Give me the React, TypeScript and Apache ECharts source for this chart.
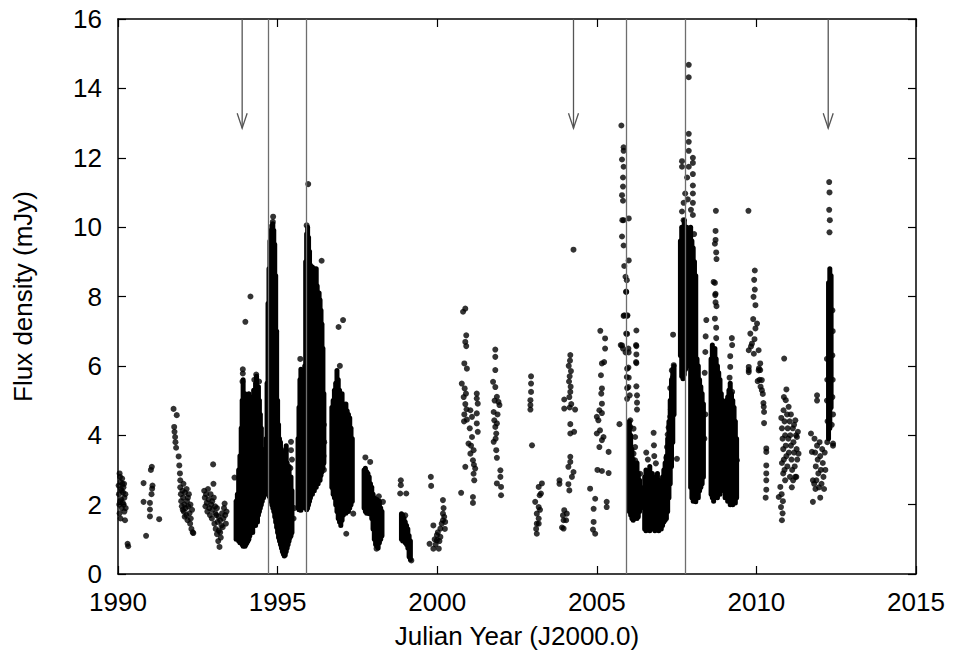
import React, { useEffect, useRef } from 'react';
import * as echarts from 'echarts';

const xTicks = { min: 1990, max: 2015, step: 5 };
const yTicks = { min: 0, max: 16, step: 2 };
const flareLines = [1994.71, 1995.9, 2005.92, 2007.77];
const arrowYears = [1993.89, 2004.27, 2012.25];
const arrowTip = 12.85;

// dense observation runs: [year, lowest flux, highest flux]
const denseSpans: [number, number, number][] = [
  [1993.70,1.00,2.10],[1993.74,1.10,2.30],[1993.78,0.95,3.00],[1993.82,0.90,3.40],[1993.86,1.00,4.20],[1993.89,0.85,5.00],[1993.92,0.80,5.60],[1993.95,0.90,4.80],[1993.98,0.80,5.20],[1994.01,0.85,4.60],[1994.04,0.90,5.00],[1994.07,0.95,4.40],[1994.10,1.00,5.20],[1994.13,1.10,4.80],[1994.16,1.20,5.10],[1994.19,1.30,4.50],[1994.22,1.20,5.00],[1994.25,1.40,5.30],[1994.28,1.50,4.70],[1994.31,1.40,5.50],[1994.34,1.60,5.70],[1994.37,1.50,5.00],[1994.40,1.70,5.40],[1994.43,1.80,5.00],[1994.46,1.90,4.60],[1994.49,2.00,4.20],[1994.52,2.10,3.60],[1994.56,2.20,3.20],[1994.60,2.30,3.40],
  [1994.64,2.40,3.90],[1994.67,2.35,5.50],[1994.70,2.30,7.80],[1994.73,2.25,8.80],[1994.76,2.20,9.60],[1994.79,2.10,9.90],[1994.82,2.00,10.05],[1994.85,1.90,10.10],[1994.88,1.80,9.90],[1994.91,1.65,9.50],[1994.94,1.50,8.60],[1994.97,1.35,7.00],[1995.00,1.20,5.00],[1995.03,1.05,4.30],[1995.06,0.95,3.90],[1995.09,0.85,3.80],[1995.12,0.75,3.60],[1995.15,0.65,3.50],[1995.18,0.58,3.40],[1995.21,0.52,3.30],[1995.24,0.55,3.50],[1995.27,0.65,3.70],[1995.30,0.75,3.20],[1995.33,0.85,2.90],[1995.36,0.95,3.10],[1995.39,1.05,2.60],[1995.42,1.10,2.80],[1995.45,1.20,2.40],
  [1995.64,1.90,3.90],[1995.67,1.85,4.80],[1995.70,1.85,5.60],[1995.73,1.84,5.90],[1995.76,1.90,5.50],[1995.79,1.95,5.20],[1995.82,2.00,5.60],[1995.85,2.05,6.00],
  [1995.88,1.90,9.00],[1995.91,1.85,9.80],[1995.94,1.90,10.00],[1995.97,2.00,9.70],[1996.00,2.10,9.30],[1996.03,2.20,8.90],[1996.06,2.35,8.70],[1996.09,2.30,8.85],[1996.12,2.45,8.60],[1996.15,2.40,8.80],[1996.18,2.55,8.50],[1996.21,2.50,8.80],[1996.24,2.65,8.30],[1996.27,2.60,8.10],[1996.30,2.75,8.10],[1996.33,2.70,7.90],[1996.36,2.85,7.60],[1996.39,2.95,7.20],[1996.42,3.05,6.50],[1996.45,3.20,5.20],
  [1996.70,2.50,4.80],[1996.74,2.30,5.00],[1996.78,2.20,5.30],[1996.82,2.00,5.50],[1996.86,1.80,5.87],[1996.90,1.60,5.60],[1996.94,1.50,5.30],[1996.98,1.40,5.00],[1997.02,1.55,5.20],[1997.06,1.70,4.90],[1997.10,1.80,4.80],[1997.14,1.75,4.90],[1997.18,1.90,4.70],[1997.22,1.80,4.60],[1997.26,1.90,4.50],[1997.30,2.00,4.20],[1997.34,2.10,3.90],
  [1997.71,1.90,3.00],[1997.75,1.80,3.05],[1997.79,1.75,2.95],[1997.83,1.80,2.90],[1997.87,1.74,2.80],[1997.91,1.74,2.60],[1997.95,1.60,2.50],[1997.99,1.30,2.30],[1998.03,1.00,2.20],[1998.07,0.85,2.10],[1998.11,0.80,2.15],[1998.15,0.75,2.00],[1998.19,0.90,2.10],[1998.23,1.00,1.90],[1998.27,1.10,1.80],
  [1998.88,1.00,1.74],[1998.92,0.95,1.70],[1998.96,1.05,1.60],[1999.00,0.90,1.50],[1999.04,0.85,1.40],[1999.08,0.75,1.30],[1999.12,0.50,1.10],[1999.16,0.42,0.95],
  [2006.02,1.80,4.40],[2006.06,1.70,4.00],[2006.10,1.60,3.60],[2006.14,1.55,3.30],[2006.18,1.60,3.10],[2006.22,1.70,3.00],[2006.26,1.60,3.20],[2006.30,1.65,2.90],[2006.34,1.80,2.70],[2006.38,1.90,2.50],
  [2006.50,1.30,2.80],[2006.54,1.25,3.00],[2006.58,1.30,2.60],[2006.62,1.40,2.90],[2006.66,1.25,3.10],[2006.70,1.30,2.70],[2006.74,1.35,2.90],[2006.78,1.30,2.50],[2006.82,1.25,2.80],[2006.86,1.40,2.60],[2006.90,1.30,2.90],[2006.94,1.25,2.70],[2006.98,1.35,2.40],[2007.02,1.30,2.60],[2007.06,1.40,2.80],[2007.10,1.50,3.00],[2007.14,1.55,3.20],
  [2007.18,1.60,3.40],[2007.22,1.80,3.90],[2007.26,2.20,4.40],[2007.30,2.60,5.00],[2007.34,3.10,5.60],[2007.38,3.80,5.90],[2007.42,4.60,6.00],
  [2007.62,6.30,9.60],[2007.66,5.70,10.00],[2007.70,5.63,9.90],[2007.74,5.75,10.20],[2007.78,5.90,9.80],[2007.82,6.20,10.00],[2007.86,6.00,9.90],[2007.90,6.40,9.70],
  [2007.94,2.50,10.00],[2007.98,2.20,9.60],[2008.02,2.10,9.40],[2008.06,2.20,9.00],[2008.10,2.08,8.60],[2008.14,2.30,6.20],[2008.18,2.20,6.00],[2008.22,2.40,5.60],[2008.26,2.50,5.40],[2008.30,2.60,5.20],[2008.34,2.80,4.90],
  [2008.58,2.30,6.20],[2008.62,2.20,6.60],[2008.66,2.10,6.40],[2008.70,2.20,6.50],[2008.74,2.30,6.20],[2008.78,2.20,6.00],[2008.82,2.40,5.80],[2008.86,2.30,5.60],[2008.90,2.50,5.20],[2008.94,2.60,5.00],[2008.98,2.40,4.80],[2009.02,2.20,4.90],[2009.06,2.30,5.00],[2009.10,2.10,5.10],[2009.14,2.20,5.30],[2009.18,2.00,5.50],[2009.22,2.10,5.20],[2009.26,2.00,5.00],[2009.30,2.10,4.80],[2009.34,2.05,4.40],[2009.38,2.20,3.90],
  [2012.26,3.90,8.40],[2012.30,4.20,8.80],[2012.34,4.80,8.60],
];

const obs1990to1993: [number, number][] = [
  [1990.02,2.55],[1990.03,2.3],[1990.04,2.0],[1990.05,1.75],[1990.06,2.8],[1990.08,2.65],[1990.09,2.45],[1990.10,2.15],[1990.12,1.9],[1990.13,2.75],[1990.14,2.6],[1990.16,2.35],[1990.17,2.5],[1990.18,2.0],[1990.20,1.8],[1990.20,2.2],[1990.22,1.55],[1990.05,2.9],[1990.08,1.6],[1990.24,1.9],[1990.07,2.1],[1990.11,2.4],[1990.15,2.05],[1990.19,2.6],[1990.23,2.3],
  [1990.30,0.87],[1990.32,0.8],
  [1990.80,2.62],[1990.80,2.08],[1990.88,1.10],[1991.03,3.00],[1991.06,3.09],[1991.07,2.46],[1991.05,2.30],[1991.08,2.55],[1991.00,2.05],[1991.00,1.86],[1991.00,1.66],[1991.29,1.58],
  [1991.74,4.76],[1991.84,4.58],[1991.76,4.24],[1991.77,4.10],[1991.79,3.95],[1991.80,3.80],[1991.82,3.64],[1991.90,3.39],[1991.92,3.13],[1991.94,2.90],[1991.95,2.70],[1991.95,2.50],[1991.97,2.30],[1991.98,2.10],[1992.00,1.95],[1992.02,2.40],[1992.04,2.20],[1992.05,2.60],[1992.06,1.80],[1992.08,2.00],[1992.10,2.35],[1992.12,1.90],[1992.14,1.70],[1992.15,2.45],[1992.16,2.10],[1992.18,1.55],[1992.20,1.95],[1992.22,2.30],[1992.24,1.75],[1992.26,1.45],[1992.28,1.60],[1992.30,1.30],[1992.32,1.85],[1992.34,1.20],[1992.36,1.18],[1992.03,1.85],[1992.09,1.65],[1992.19,2.20],[1992.27,2.00],
  [1992.70,2.40],[1992.72,2.20],[1992.74,1.95],[1992.76,2.30],[1992.78,2.05],[1992.80,1.80],[1992.82,2.45],[1992.84,2.15],[1992.86,1.90],[1992.88,1.70],[1992.90,2.30],[1992.92,2.00],[1992.94,1.60],[1992.95,2.10],[1992.96,1.85],[1992.98,3.16],[1992.99,2.60],[1993.00,2.20],[1993.02,1.45],[1993.04,1.95],[1993.05,1.75],[1993.06,1.30],[1993.08,1.70],[1993.10,1.15],[1993.10,1.90],[1993.12,1.50],[1993.14,0.95],[1993.15,1.65],[1993.16,1.25],[1993.18,0.78],[1993.20,1.55],[1993.20,1.20],[1993.22,1.05],[1993.24,1.40],[1993.26,1.75],[1993.28,1.35],[1993.30,1.60],[1993.32,1.90],[1993.34,2.03],[1993.36,1.70],[1993.38,1.45],[1993.40,1.80],
];

const obs1993to2000: [number, number][] = [
  [1993.65,2.78],[1993.91,5.90],[1993.91,5.78],[1993.90,5.55],[1993.99,7.27],[1994.15,8.00],[1994.33,5.75],[1994.42,5.55],[1994.27,5.60],
  [1994.86,10.30],[1994.85,10.15],[1995.42,3.81],[1995.42,3.57],[1995.45,3.30],[1995.40,3.05],[1995.71,6.20],[1995.50,1.60],[1995.52,1.90],
  [1995.96,11.24],[1995.91,10.05],[1996.38,9.03],[1996.45,3.00],[1996.44,3.40],[1996.46,3.80],[1996.45,4.30],
  [1996.91,7.12],[1997.05,7.32],[1996.75,2.46],[1997.37,1.74],[1997.15,1.16],[1996.95,6.00],
  [1997.75,3.36],[1997.90,3.23],[1998.17,2.24],[1998.30,2.08],[1998.10,0.73],
  [1998.86,2.70],[1998.86,2.56],[1998.84,2.32],[1999.03,2.32],[1999.00,1.69],[1999.19,0.39],
  [1999.80,2.80],[1999.81,2.54],[1999.88,1.40],[1999.76,0.87],[1999.88,0.73],[2000.05,0.73],[1999.99,1.12],[2000.10,1.31],[2000.18,1.74],[2000.18,2.13],[2000.25,1.50],[2000.10,1.07],[2000.18,1.55],[1999.99,0.97],[1999.92,1.00],[2000.02,1.20],[2000.14,1.45],[2000.22,1.65],[1999.95,0.85],[2000.07,0.95],[2000.20,1.90],[2000.24,1.30],
];

const obs2000to2006: [number, number][] = [
  [2000.88,7.65],[2000.81,7.56],[2000.91,6.88],[2000.88,6.69],[2000.91,6.57],[2000.85,6.07],[2000.93,5.92],[2000.77,5.49],[2000.86,5.35],[2000.83,5.10],[2000.88,4.90],[2000.85,4.60],[2000.92,4.75],[2000.90,5.20],[2000.84,4.40],
  [2001.04,4.72],[2001.09,4.53],[2001.24,5.20],[2001.24,5.06],[2001.27,4.91],[2001.24,4.63],[2001.24,4.34],[2001.27,4.10],[2000.98,3.76],[2001.09,3.95],[2001.14,3.57],[2001.12,3.28],[2001.19,3.04],[2001.16,2.70],[2000.88,3.09],[2000.75,2.34],[2001.12,2.22],[2001.12,2.05],[2001.04,3.47],[2001.14,2.89],[2001.02,4.20],[2000.93,4.45],[2001.06,3.70],[2001.15,3.15],
  [2001.82,6.47],[2001.82,6.26],[2001.82,5.88],[2001.75,5.54],[2001.82,5.39],[2001.87,5.11],[2001.95,4.87],[2001.77,4.67],[2001.79,4.43],[2001.87,4.34],[2001.85,4.05],[2001.77,3.81],[2001.85,3.57],[2001.98,2.99],[2001.98,2.80],[2001.87,2.61],[2002.00,2.51],[2002.00,2.27],[2001.92,4.96],[2001.82,4.24],[2001.80,5.00],[2001.89,4.60],[2001.83,3.90],[2001.87,3.35],
  [2002.94,5.70],[2002.94,5.49],[2002.94,5.25],[2002.92,5.01],[2002.92,4.87],[2002.92,4.74],[2002.97,3.71],
  [2003.28,2.61],[2003.18,2.51],[2003.21,2.27],[2003.07,2.08],[2003.18,1.93],[2003.12,1.74],[2003.18,1.60],[2003.12,1.45],[2003.12,1.16],[2003.25,2.32],[2003.18,1.45],[2003.10,1.30],[2003.22,1.85],
  [2003.83,2.70],[2003.83,2.60],[2003.98,1.84],[2003.94,1.69],[2003.96,1.55],[2003.91,1.34],[2003.98,5.03],[2003.98,4.77],[2004.32,4.74],[2004.17,4.32],[2004.29,4.10],[2004.17,4.05],[2004.17,3.38],[2004.17,3.23],[2004.11,3.09],[2004.27,2.94],[2004.22,2.80],[2004.11,2.59],[2004.14,2.41],[2004.06,1.74],[2004.04,1.55],[2003.96,1.31],[2004.17,6.31],[2004.27,9.35],[2004.12,6.00],[2004.15,5.70],[2004.18,5.40],[2004.14,5.10],[2004.20,4.90],[2004.16,6.15],[2004.19,5.85],[2004.13,5.55],[2004.17,5.25],[2004.15,4.80],
  [2005.11,7.01],[2005.26,6.79],[2005.26,6.50],[2005.16,6.07],[2005.23,6.11],[2005.13,5.73],[2005.16,5.35],[2005.14,5.20],[2005.16,4.91],[2005.08,4.72],[2005.16,4.64],[2005.00,4.53],[2005.05,4.43],[2005.10,4.14],[2005.00,4.05],[2005.21,3.95],[2005.16,3.86],[2005.08,3.66],[2005.37,3.52],[2005.02,3.00],[2005.16,2.97],[2005.37,2.91],[2004.79,2.46],[2004.95,2.17],[2004.90,1.88],[2005.31,2.08],[2005.31,1.93],[2004.90,1.50],[2004.88,1.28],[2004.95,1.16],
  [2005.71,4.32],
  [2005.77,12.93],[2005.84,12.30],[2005.84,12.20],[2005.79,11.95],[2005.84,11.74],[2005.82,11.43],[2005.82,11.17],[2005.79,10.92],[2005.82,10.76],[2005.80,10.20],[2005.84,10.20],[2006.00,10.25],[2005.79,9.73],[2005.84,9.47],[2005.86,8.88],[2006.00,9.04],[2005.90,8.57],[2005.92,8.14],[2005.84,7.44],[2005.95,7.44],[2005.95,6.92],[2005.79,6.59],[2005.90,6.39],[2006.00,6.39],[2005.95,5.92],[2006.00,5.66],[2005.95,5.36],[2006.03,5.15],[2005.95,5.05],
  [2006.24,7.02],[2006.24,6.57],[2006.24,6.33],[2006.24,6.08],[2006.24,5.41],[2006.26,5.15],[2006.26,4.94],[2006.26,4.74],[2006.23,6.60],[2006.23,6.11],
  [2005.94,8.47],[2005.92,8.13],[2005.86,7.46],[2005.96,7.46],[2005.92,6.93],[2005.75,6.60],[2005.82,6.50],[2005.99,6.50],[2005.99,5.95],[2005.94,5.68],[2005.99,5.39],
];

const obs2006to2012: [number, number][] = [
  [2006.05,4.43],[2006.05,4.24],[2006.15,4.19],[2006.20,3.95],[2006.20,3.66],[2006.15,3.47],[2006.20,3.28],[2006.10,2.94],[2006.25,2.89],[2006.36,2.89],
  [2006.78,4.07],[2006.79,3.71],[2006.80,3.40],[2006.85,3.19],[2006.60,3.30],[2006.55,3.50],
  [2007.41,6.02],[2007.35,5.87],[2007.38,5.66],[2007.30,5.36],[2007.35,5.05],[2007.32,4.74],[2007.30,4.53],[2007.25,4.22],[2007.22,4.02],[2007.20,3.66],[2007.18,3.35],[2007.30,3.09],[2007.39,6.90],[2007.51,3.32],
  [2007.88,14.68],[2007.88,14.32],[2007.88,12.69],[2007.88,12.46],[2007.88,12.20],[2008.01,12.00],[2007.67,11.90],[2008.01,11.85],[2007.67,11.74],[2008.01,11.53],[2007.88,11.74],[2007.83,11.43],[2008.01,11.20],[2008.01,10.97],[2007.77,10.97],[2007.72,10.70],[2008.01,10.70],[2007.67,10.45],[2007.72,10.20],[2008.01,10.35],[2007.77,9.89],[2007.95,10.50],[2007.85,10.80],[2008.05,9.80],
  [2008.43,7.32],[2008.41,6.85],[2008.40,6.40],[2008.38,5.80],[2008.40,4.60],[2008.37,3.90],
  [2008.73,10.47],[2008.72,9.89],[2008.72,9.63],[2008.70,9.52],[2008.74,9.27],[2008.75,9.08],[2008.70,8.39],[2008.72,8.08],[2008.72,7.83],[2008.75,7.72],[2008.70,7.36],[2008.74,7.10],[2008.66,8.42],[2008.71,8.04],[2008.74,6.80],
  [2009.23,6.80],[2009.18,6.28],[2009.18,5.97],[2009.16,5.66],[2009.24,5.25],[2009.39,3.28],[2009.34,2.22],[2009.24,6.60],
  [2009.75,10.47],[2009.95,8.75],[2009.93,8.48],[2009.95,8.20],[2009.91,7.99],[2009.97,7.75],[2010.02,7.22],[2009.97,7.08],[2009.81,6.93],[2009.86,6.64],[2009.76,6.45],[2010.07,6.45],[2010.12,6.07],[2009.76,5.88],[2010.12,5.88],[2010.17,5.59],[2010.17,5.30],[2010.23,4.82],[2010.31,3.62],[2010.31,3.52],[2010.31,3.13],[2010.31,2.90],[2010.31,2.70],[2010.31,2.43],[2009.76,5.97],[2009.76,5.82],[2010.07,5.87],[2010.04,5.56],[2009.90,7.35],[2009.94,6.77],[2009.83,6.56],[2009.92,6.35],[2010.08,5.93],[2010.10,5.60],[2010.13,5.40],[2010.20,5.19],[2010.22,4.93],[2010.24,4.67],[2010.24,4.35],[2010.29,2.20],
  [2010.87,6.21],[2010.94,5.32],[2010.92,5.01],[2010.85,4.72],[2011.01,4.82],[2011.22,4.43],[2010.75,2.51],[2010.70,2.22],[2010.77,1.93],[2010.80,1.55],[2010.82,1.75],[2011.25,2.80],[2011.11,2.50],[2011.27,3.95],[2011.32,3.47],
  [2010.78,4.50],[2010.80,4.20],[2010.82,3.90],[2010.84,3.60],[2010.86,3.30],[2010.88,3.00],[2010.90,2.70],[2010.80,3.20],[2010.84,2.90],[2010.88,4.40],[2010.90,4.00],[2010.92,3.70],[2010.94,3.40],[2010.96,4.60],[2010.98,4.20],[2011.00,3.90],[2011.02,3.50],[2011.04,4.40],[2011.06,4.00],[2011.08,3.70],[2011.10,3.30],[2011.12,3.00],[2011.14,4.20],[2011.16,3.80],[2011.18,3.50],[2011.20,3.10],[2011.22,2.80],[2011.24,4.00],[2011.26,3.60],[2011.28,3.30],[2011.05,2.80],[2010.97,3.10],[2011.15,2.70],[2010.86,5.10],[2011.08,4.60],[2011.18,4.30],[2011.30,4.10],[2010.79,2.30],[2010.83,2.10],
  [2011.77,2.08],[2011.71,4.05],[2011.74,3.52],[2011.77,2.70],[2011.81,2.60],[2011.90,5.15],[2011.90,5.00],[2012.40,3.76],
  [2011.82,3.90],[2011.84,3.50],[2011.86,3.10],[2011.88,2.70],[2011.90,3.70],[2011.92,3.30],[2011.94,2.90],[2011.96,2.50],[2011.98,3.80],[2012.00,3.40],[2012.02,3.00],[2012.04,2.60],[2012.06,3.60],[2012.08,3.20],[2012.10,2.80],[2012.12,2.45],[2012.14,3.50],[2012.16,3.00],[2011.85,2.45],[2012.00,2.20],
  [2012.28,11.30],[2012.29,11.00],[2012.28,10.50],[2012.30,10.20],[2012.29,9.85],[2012.40,4.60],[2012.40,3.70],[2012.36,4.30],
  [2012.21,6.2],[2012.22,5.6],[2012.21,5.0],[2012.23,4.4],[2012.22,3.8],[2012.38,7.6],[2012.39,7.0],[2012.38,6.3],[2012.39,5.6],[2012.38,5.1],
];

const FONT = '"Liberation Sans", Arial, Helvetica, sans-serif';
const FS = 26;

export default function App() {
  const ref = useRef<HTMLDivElement>(null);
  useEffect(() => {
    document.body.style.margin = '0';
    if (!ref.current) return;
    const chart = echarts.init(ref.current, undefined, { renderer: 'svg' });
    const points = [...obs1990to1993, ...obs1993to2000, ...obs2000to2006, ...obs2006to2012];
    const axisLine = { show: true, onZero: false, lineStyle: { color: '#000', width: 1.5 } };
    const axisTick = { show: true, inside: true, length: 8, lineStyle: { color: '#000', width: 1.2 } };
    const label = { fontSize: FS, color: '#000', fontFamily: FONT };
    const option: any = {
      animation: false,
      backgroundColor: '#fff',
      grid: { left: 118, right: 39, top: 19, bottom: 88, containLabel: false },
      xAxis: [
        {
          type: 'value', min: xTicks.min, max: xTicks.max, interval: xTicks.step, position: 'bottom',
          name: 'Julian Year (J2000.0)', nameLocation: 'middle', nameGap: 49,
          nameTextStyle: { ...label },
          axisLine, axisTick,
          axisLabel: { ...label, margin: 17, lineHeight: 22, formatter: (v: number) => String(v) },
          splitLine: { show: false },
        },
        {
          type: 'value', min: xTicks.min, max: xTicks.max, interval: xTicks.step, position: 'top',
          axisLine, axisTick, axisLabel: { show: false }, splitLine: { show: false },
        },
      ],
      yAxis: [
        {
          type: 'value', min: yTicks.min, max: yTicks.max, interval: yTicks.step, position: 'left',
          name: 'Flux density (mJy)', nameLocation: 'middle', nameGap: 82,
          nameTextStyle: { ...label },
          axisLine, axisTick,
          axisLabel: { ...label, margin: 16, lineHeight: 20, formatter: (v: number) => String(v) },
          splitLine: { show: false },
        },
        {
          type: 'value', min: yTicks.min, max: yTicks.max, interval: yTicks.step, position: 'right',
          axisLine, axisTick, axisLabel: { show: false }, splitLine: { show: false },
        },
      ],
      series: [
        {
          type: 'custom', silent: true, clip: true,
          data: denseSpans,
          encode: { x: 0, y: [1, 2] },
          renderItem: (_p: any, api: any) => {
            const hi = api.coord([api.value(0), api.value(2)]);
            const lo = api.coord([api.value(0), api.value(1)]);
            return {
              type: 'line',
              shape: { x1: hi[0], y1: hi[1], x2: lo[0], y2: lo[1] },
              style: { stroke: '#000', lineWidth: 5, lineCap: 'round' },
            };
          },
        },
        {
          type: 'scatter', silent: true, data: points, symbol: 'circle', symbolSize: 6,
          itemStyle: { color: '#000' },
          markLine: {
            silent: true, symbol: ['none', 'none'], label: { show: false },
            lineStyle: { color: '#6e6e6e', width: 1.3, type: 'solid' },
            data: flareLines.map((v) => ({ xAxis: v })),
          },
        },
        {
          type: 'custom', silent: true,
          data: arrowYears.map((y) => [y, arrowTip]),
          encode: { x: 0, y: 1 },
          renderItem: (_p: any, api: any) => {
            const top = api.coord([api.value(0), yTicks.max]);
            const tip = api.coord([api.value(0), api.value(1)]);
            const st = { stroke: '#555', lineWidth: 1.3, fill: 'none' };
            return {
              type: 'group',
              children: [
                { type: 'line', shape: { x1: top[0], y1: top[1], x2: tip[0], y2: tip[1] }, style: st },
                { type: 'polyline', shape: { points: [[tip[0] - 5, tip[1] - 15], [tip[0], tip[1]], [tip[0] + 5, tip[1] - 15]] }, style: st },
              ],
            };
          },
        },
      ],
    };
    chart.setOption(option);
    return () => chart.dispose();
  }, []);
  return <div ref={ref} style={{ width: 955, height: 662 }} />;
}
